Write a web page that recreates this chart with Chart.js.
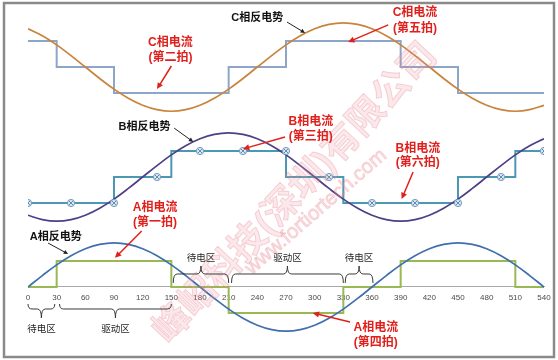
<!DOCTYPE html>
<html>
<head>
<meta charset="utf-8">
<script src="https://cdn.jsdelivr.net/npm/chart.js@4.4.0/dist/chart.umd.min.js"></script>
<style>
html, body { margin: 0; padding: 0; background: #fff; }
canvas { display: block; }
</style>
</head>
<body>
<canvas id="grafico" width="558" height="360"></canvas>
<script>
// electrical angle (deg) for the back-EMF curves
const emfAngles = [0, 15, 30, 45, 60, 75, 90, 105, 120, 135, 150, 165, 180, 195, 210, 225, 240, 255, 270,
  285, 300, 315, 330, 345, 360, 375, 390, 405, 420, 435, 450, 465, 480, 495, 510, 525, 540];
const emfA = [0, 0.44, 0.85, 1.2, 1.47, 1.64, 1.7, 1.64, 1.47, 1.2, 0.85, 0.44, 0, -0.44, -0.85, -1.2, -1.47, -1.64, -1.7,
  -1.64, -1.47, -1.2, -0.85, -0.44, 0, 0.44, 0.85, 1.2, 1.47, 1.64, 1.7, 1.64, 1.47, 1.2, 0.85, 0.44, 0];
const emfB = [-1.47, -1.64, -1.7, -1.64, -1.47, -1.2, -0.85, -0.44, 0, 0.44, 0.85, 1.2, 1.47, 1.64, 1.7, 1.64, 1.47, 1.2, 0.85,
  0.44, 0, -0.44, -0.85, -1.2, -1.47, -1.64, -1.7, -1.64, -1.47, -1.2, -0.85, -0.44, 0, 0.44, 0.85, 1.2, 1.47];
const emfC = [1.47, 1.2, 0.85, 0.44, 0, -0.44, -0.85, -1.2, -1.47, -1.64, -1.7, -1.64, -1.47, -1.2, -0.85, -0.44, 0, 0.44, 0.85,
  1.2, 1.47, 1.64, 1.7, 1.64, 1.47, 1.2, 0.85, 0.44, 0, -0.44, -0.85, -1.2, -1.47, -1.64, -1.7, -1.64, -1.47];

// phase currents, each value holds until the next angle
const currentAngles = [0, 30, 60, 90, 120, 150, 180, 210, 240, 270, 300, 330, 360, 390, 420, 450, 480, 510, 540];
const currentA = [0, 1, 1, 1, 1, 0, 0, -1, -1, -1, -1, 0, 0, 1, 1, 1, 1, 0, 0];
const currentB = [-1, -1, -1, 0, 0, 1, 1, 1, 1, 0, 0, -1, -1, -1, -1, 0, 0, 1, 1];
const currentC = [1, 0, 0, -1, -1, -1, -1, 0, 0, 1, 1, 1, 1, 0, 0, -1, -1, -1, -1];

// markers on the B current
const markerAngles = [0, 45, 90, 135, 180, 225, 270, 315, 360, 405, 450, 495, 540];
const markerB = [-1, -1, -1, 0, 1, 1, 1, 0, -1, -1, -1, 0, 1];

const degreeTicks = [0, 30, 60, 90, 120, 150, 180, 210, 240, 270, 300, 330, 360, 390, 420, 450, 480, 510, 540];

const emfLabels = [
  { text: 'C相反电势', axis: 'yC', x: 240, y: 1.88, from: [271, 1.73], to: [290, 1.31] },
  { text: 'B相反电势', axis: 'yB', x: 122, y: 1.92, from: [153, 1.88], to: [173, 1.35] },
  { text: 'A相反电势', axis: 'yA', x: 29, y: 1.92, from: [21, 1.69], to: [42, 1.27] }
];
const currentLabels = [
  { lines: ['C相电流', '(第二拍)'], axis: 'yC', x: 149, y: [0.92, 0.35], from: [150, 0.04], to: [135, -0.85] },
  { lines: ['C相电流', '(第五拍)'], axis: 'yC', x: 405, y: [2.08, 1.46], from: [377, 1.62], to: [335, 0.96] },
  { lines: ['B相电流', '(第三拍)'], axis: 'yB', x: 296, y: [2.12, 1.54], from: [269, 1.54], to: [225, 1.08] },
  { lines: ['B相电流', '(第六拍)'], axis: 'yB', x: 408, y: [1.08, 0.54], from: [403, 0.19], to: [391, -0.85] },
  { lines: ['A相电流', '(第一拍)'], axis: 'yA', x: 133, y: [3.04, 2.46], from: [119, 2.15], to: [91, 1.12] },
  { lines: ['A相电流', '(第四拍)'], axis: 'yA', x: 364, y: [-1.58, -2.15], from: [337, -1.35], to: [298, -1.0] }
];
const zoneBraces = [
  { from: 0, to: 28, side: 'below', label: '待电区' },
  { from: 33, to: 150, side: 'below', label: '驱动区' },
  { from: 152, to: 210, side: 'above', label: '待电区' },
  { from: 213, to: 330, side: 'above', label: '驱动区' },
  { from: 332, to: 361, side: 'above', label: '待电区' }
];

const FONT = '"Liberation Sans", "Noto Sans CJK SC", sans-serif';

function pontos(xs, ys) {
  return xs.map((x, i) => ({ x: x, y: ys[i] }));
}

function seta(ctx, x1, y1, x2, y2, cor, largura, cabeca) {
  const ang = Math.atan2(y2 - y1, x2 - x1);
  ctx.save();
  ctx.strokeStyle = cor;
  ctx.fillStyle = cor;
  ctx.lineWidth = largura;
  ctx.beginPath();
  ctx.moveTo(x1, y1);
  ctx.lineTo(x2 - Math.cos(ang) * cabeca * 0.8, y2 - Math.sin(ang) * cabeca * 0.8);
  ctx.stroke();
  ctx.beginPath();
  ctx.moveTo(x2, y2);
  ctx.lineTo(x2 - cabeca * Math.cos(ang - 0.45), y2 - cabeca * Math.sin(ang - 0.45));
  ctx.lineTo(x2 - cabeca * Math.cos(ang + 0.45), y2 - cabeca * Math.sin(ang + 0.45));
  ctx.closePath();
  ctx.fill();
  ctx.restore();
}

function chave(ctx, x1, x2, yNivel, yPonta, yFim) {
  const r = 4;
  const xm = (x1 + x2) / 2;
  ctx.beginPath();
  ctx.moveTo(x1, yFim);
  ctx.quadraticCurveTo(x1, yNivel, x1 + r, yNivel);
  ctx.lineTo(xm - r, yNivel);
  ctx.quadraticCurveTo(xm, yNivel, xm, yPonta);
  ctx.quadraticCurveTo(xm, yNivel, xm + r, yNivel);
  ctx.lineTo(x2 - r, yNivel);
  ctx.quadraticCurveTo(x2, yNivel, x2, yFim);
  ctx.stroke();
}

const anotacoes = {
  id: 'anotacoes',
  afterDatasetsDraw(chart) {
    const ctx = chart.ctx;
    const sx = chart.scales.x;
    const px = d => sx.getPixelForValue(d);
    const py = (axis, v) => chart.scales[axis].getPixelForValue(v);
    const eixoY = py('yA', 0);

    // marca d'agua
    ctx.save();
    ctx.translate(296, 194);
    ctx.rotate(-46.8 * Math.PI / 180);
    ctx.textAlign = 'center';
    ctx.textBaseline = 'middle';
    ctx.font = 'bold 37px ' + FONT;
    ctx.fillStyle = 'rgba(240, 160, 170, 0.24)';
    ctx.strokeStyle = 'rgba(225, 110, 125, 0.28)';
    ctx.lineWidth = 1;
    ctx.fillText('峰岹科技(深圳)有限公司', 0, 0);
    ctx.strokeText('峰岹科技(深圳)有限公司', 0, 0);
    ctx.restore();
    ctx.save();
    ctx.translate(316, 212);
    ctx.rotate(-41 * Math.PI / 180);
    ctx.textAlign = 'center';
    ctx.textBaseline = 'middle';
    ctx.font = '20px ' + FONT;
    ctx.fillStyle = 'rgba(240, 160, 170, 0.28)';
    ctx.strokeStyle = 'rgba(225, 110, 125, 0.25)';
    ctx.fillText('www.fortiortech.com', 0, 0);
    ctx.strokeText('www.fortiortech.com', 0, 0);
    ctx.restore();

    // chaves das zonas
    ctx.save();
    ctx.strokeStyle = '#3a3a3a';
    ctx.lineWidth = 1;
    ctx.fillStyle = '#262626';
    ctx.font = '9.5px ' + FONT;
    ctx.textAlign = 'center';
    ctx.textBaseline = 'middle';
    zoneBraces.forEach(b => {
      const x1 = px(b.from), x2 = px(b.to);
      if (b.side === 'below') {
        chave(ctx, x1, x2, eixoY + 22, eixoY + 31, eixoY + 17);
        ctx.fillText(b.label, (x1 + x2) / 2, eixoY + 42);
      } else {
        chave(ctx, x1, x2, eixoY - 13, eixoY - 21, eixoY - 4);
        ctx.fillText(b.label, (x1 + x2) / 2, eixoY - 29);
      }
    });
    ctx.restore();

    // rotulos da FCEM
    ctx.save();
    ctx.fillStyle = '#111';
    ctx.font = 'bold 11px ' + FONT;
    ctx.textAlign = 'center';
    ctx.textBaseline = 'middle';
    emfLabels.forEach(l => {
      ctx.fillText(l.text, px(l.x), py(l.axis, l.y));
      seta(ctx, px(l.from[0]), py(l.axis, l.from[1]), px(l.to[0]), py(l.axis, l.to[1]), '#222', 1, 5);
    });
    ctx.restore();

    // rotulos das correntes
    ctx.save();
    ctx.fillStyle = '#e0201c';
    ctx.font = 'bold 12px ' + FONT;
    ctx.textAlign = 'center';
    ctx.textBaseline = 'middle';
    currentLabels.forEach(l => {
      l.lines.forEach((t, i) => ctx.fillText(t, px(l.x), py(l.axis, l.y[i])));
      seta(ctx, px(l.from[0]), py(l.axis, l.from[1]), px(l.to[0]), py(l.axis, l.to[1]), '#e0201c', 1.5, 7);
    });
    ctx.restore();
  },
  afterDraw(chart) {
    const ctx = chart.ctx;
    ctx.save();
    ctx.strokeStyle = '#8a8a8a';
    ctx.lineWidth = 2.5;
    ctx.strokeRect(4, 3, 550, 354);
    ctx.restore();
  }
};

const linhaEmf = (dados, eixo, cor) => ({
  data: pontos(emfAngles, dados), yAxisID: eixo, borderColor: cor, borderWidth: 1.7,
  pointRadius: 0, tension: 0.4, fill: false
});
const linhaCorrente = (dados, eixo, cor) => ({
  data: pontos(currentAngles, dados), yAxisID: eixo, borderColor: cor, borderWidth: 2,
  pointRadius: 0, stepped: true, fill: false
});

new Chart(document.getElementById('grafico'), {
  type: 'line',
  data: {
    datasets: [
      {
        data: pontos(markerAngles, markerB), yAxisID: 'yB', showLine: false,
        pointStyle: 'crossRot', pointRadius: 3, borderColor: '#5f8fb4', borderWidth: 1
      },
      {
        data: pontos(markerAngles, markerB), yAxisID: 'yB', showLine: false,
        pointStyle: 'circle', pointRadius: 3.6, backgroundColor: '#dbe7f1', borderColor: '#6f9cc0', borderWidth: 1
      },
      linhaEmf(emfC, 'yC', '#c9843b'),
      linhaEmf(emfB, 'yB', '#4f3f86'),
      linhaEmf(emfA, 'yA', '#3f6fae'),
      linhaCorrente(currentC, 'yC', '#8ca5c8'),
      linhaCorrente(currentB, 'yB', '#4a98b4'),
      linhaCorrente(currentA, 'yA', '#98b954')
    ]
  },
  options: {
    responsive: false,
    animation: false,
    events: [],
    layout: { padding: { left: 28, right: 14, top: 8, bottom: 8 } },
    plugins: { legend: { display: false }, tooltip: { enabled: false } },
    scales: {
      x: {
        type: 'linear',
        min: 0,
        max: 540,
        position: { yA: 0 },
        grid: { display: false, drawTicks: false },
        border: { display: true, color: '#a8a8a8', width: 1 },
        afterBuildTicks: s => { s.ticks = degreeTicks.map(v => ({ value: v })); },
        ticks: { autoSkip: false, maxRotation: 0, padding: 6, color: '#4a4a4a', font: { size: 8, family: FONT } }
      },
      yA: { type: 'linear', min: -2.5, max: 10.73, display: false },
      yB: { type: 'linear', min: -6.73, max: 6.5, display: false },
      yC: { type: 'linear', min: -10.96, max: 2.27, display: false }
    }
  },
  plugins: [anotacoes]
});
</script>
</body>
</html>
